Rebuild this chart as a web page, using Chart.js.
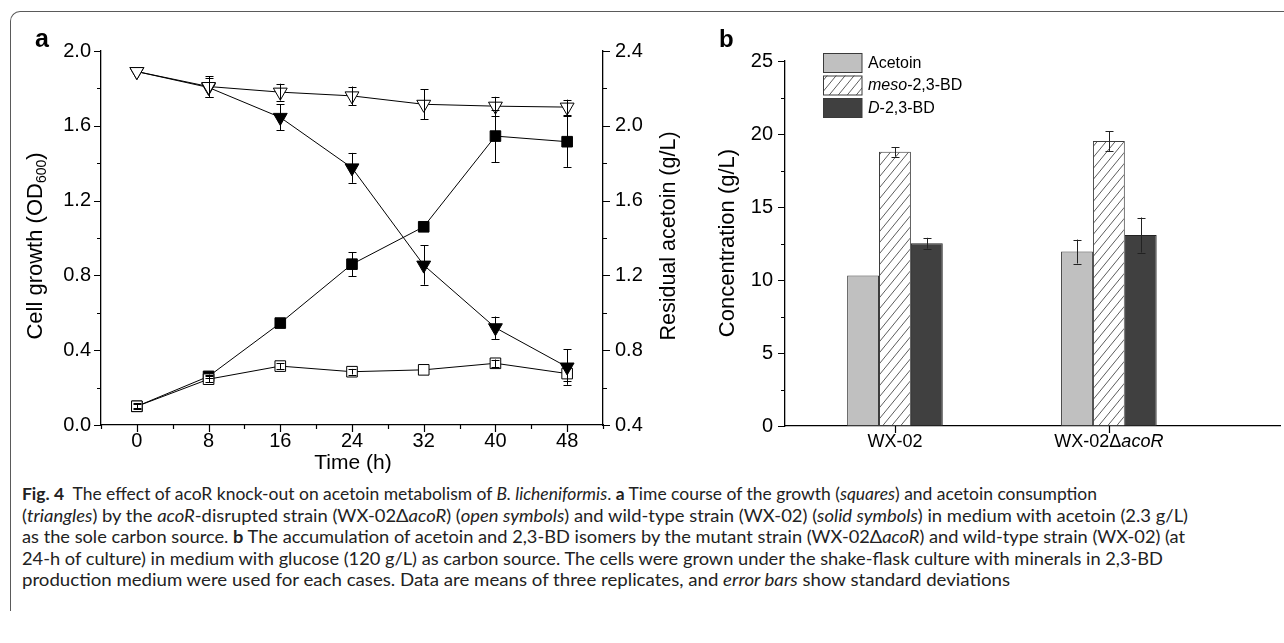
<!DOCTYPE html>
<html><head><meta charset="utf-8">
<script src="https://cdn.jsdelivr.net/npm/chart.js@4"></script>
<style>
html,body{margin:0;padding:0;background:#fff;width:1284px;height:643px;overflow:hidden;position:relative}
#frame{position:absolute;left:10px;top:11px;width:1300px;height:600px;border-left:1.5px solid #5a5a5a;border-top:1.5px solid #5a5a5a;border-top-left-radius:10px;box-sizing:border-box}
#ca{position:absolute;left:0;top:0;width:700px;height:480px}
#cb{position:absolute;left:700px;top:0;width:584px;height:480px}
.cap{position:absolute;left:22px;font-family:Lato,'Open Sans',sans-serif;font-size:17.5px;line-height:21.5px;white-space:nowrap;transform-origin:0 50%;color:#222}
</style></head>
<body>
<div id="frame"></div>
<canvas id="ca" width="700" height="480"></canvas>
<canvas id="cb" width="584" height="480"></canvas>
<div class="cap" style="top:483px"><b>Fig. 4</b>&nbsp; The effect of acoR knock-out on acetoin metabolism of <i>B. licheniformis</i>. <b>a</b> Time course of the growth (<i>squares</i>) and acetoin consumption</div>
<div class="cap" style="top:505px">(<i>triangles</i>) by the <i>acoR</i>-disrupted strain (WX-02Δ<i>acoR</i>) (<i>open symbols</i>) and wild-type strain (WX-02) (<i>solid symbols</i>) in medium with acetoin (2.3 g/L)</div>
<div class="cap" style="top:526px">as the sole carbon source. <b>b</b> The accumulation of acetoin and 2,3-BD isomers by the mutant strain (WX-02Δ<i>acoR</i>) and wild-type strain (WX-02) (at</div>
<div class="cap" style="top:548px">24-h of culture) in medium with glucose (120 g/L) as carbon source. The cells were grown under the shake-flask culture with minerals in 2,3-BD</div>
<div class="cap" style="top:569px">production medium were used for each cases. Data are means of three replicates, and <i>error bars</i> show standard deviations</div>
<script>
// ---------- Panel a data ----------
const timeH = [0, 8, 16, 24, 32, 40, 48];
const growthWT = [0.10, 0.26, 0.545, 0.86, 1.06, 1.545, 1.515];
const growthWTErr = [0.01, 0.01, 0.01, 0.065, 0.02, 0.14, 0.135];
const growthMut = [0.10, 0.245, 0.315, 0.285, 0.295, 0.33, 0.275];
const growthMutErr = [0.015, 0.015, 0.015, 0.015, 0, 0.02, 0.04];
const acetoinWT = [2.29, 2.205, 2.045, 1.775, 1.255, 0.92, 0.71];
const acetoinWTErr = [0, 0.05, 0.07, 0.08, 0.105, 0.06, 0.095];
const acetoinMut = [2.29, 2.21, 2.18, 2.16, 2.115, 2.105, 2.10];
const acetoinMutErr = [0, 0.055, 0.045, 0.05, 0.08, 0.05, 0.04];

// ---------- Panel b data ----------
const strains = ['WX-02', 'WX-02Δ'];
const strainsItalic = ['', 'acoR'];
const strainPos = [1, 2];
const acetoinConc = [10.3, 11.95];
const acetoinConcErr = [0, 0.82];
const mesoBD = [18.78, 19.52];
const mesoBDErr = [0.33, 0.68];
const dBD = [12.52, 13.08];
const dBDErr = [0.37, 1.2];
const seriesItalic = ['', 'meso', 'D'];
const seriesRest = ['Acetoin', '-2,3-BD', '-2,3-BD'];

// caption line right edges (layout)
const capLeft = 22;
const capRight = [1097, 1188, 1185, 1163, 1010];

const FONT = "'Liberation Sans', Arial, sans-serif";

function tickMarks(ctx, scale, side, majorLen, minorLen, allMajor) {
  ctx.save(); ctx.strokeStyle = '#000'; ctx.lineWidth = 1.2;
  ctx.beginPath();
  scale.ticks.forEach(t => {
    const major = allMajor || (t.label !== '' && t.label !== undefined);
    const len = major ? majorLen : minorLen;
    const p = Math.round(scale.getPixelForValue(t.value)) + 0.5;
    if (side === 'bottom') { ctx.moveTo(p, scale.top); ctx.lineTo(p, scale.top + len); }
    else if (side === 'left') { ctx.moveTo(scale.right, p); ctx.lineTo(scale.right - len, p); }
    else { ctx.moveTo(scale.left, p); ctx.lineTo(scale.left + len, p); }
  });
  ctx.stroke(); ctx.restore();
}

function errBars(chart, capHalf, color) {
  const ctx = chart.ctx;
  ctx.save(); ctx.strokeStyle = color; ctx.lineWidth = 1;
  chart.data.datasets.forEach((ds, di) => {
    if (!ds.errorBars) return;
    const meta = chart.getDatasetMeta(di);
    const ys = chart.scales[meta.yAxisID];
    meta.data.forEach((el, i) => {
      const e = ds.errorBars[i]; if (!e) return;
      const v = ds.data[i].y;
      const y1 = ys.getPixelForValue(v + e), y2 = ys.getPixelForValue(v - e);
      const x = Math.round(el.x) + 0.5;
      ctx.beginPath();
      ctx.moveTo(x, y1); ctx.lineTo(x, y2);
      ctx.moveTo(x - capHalf, Math.round(y1) + 0.5); ctx.lineTo(x + capHalf, Math.round(y1) + 0.5);
      ctx.moveTo(x - capHalf, Math.round(y2) + 0.5); ctx.lineTo(x + capHalf, Math.round(y2) + 0.5);
      ctx.stroke();
    });
  });
  ctx.restore();
}

function rotText(ctx, cx, cy, parts) {
  ctx.save();
  ctx.translate(cx, cy); ctx.rotate(-Math.PI / 2);
  ctx.fillStyle = '#000'; ctx.textBaseline = 'middle'; ctx.textAlign = 'left';
  let total = 0;
  parts.forEach(p => { ctx.font = (p.style || '') + ' ' + p.size + 'px ' + FONT; p.w = ctx.measureText(p.t).width; total += p.w; });
  let x = -total / 2;
  parts.forEach(p => { ctx.font = (p.style || '') + ' ' + p.size + 'px ' + FONT; ctx.fillText(p.t, x, p.dy || 0); x += p.w; });
  ctx.restore();
}

const plugA = {
  id: 'plugA',
  afterDatasetsDraw(chart) { errBars(chart, 4, '#000'); },
  afterDraw(chart) {
    const ctx = chart.ctx, s = chart.scales;
    tickMarks(ctx, s.x, 'bottom', 7, 4);
    tickMarks(ctx, s.y, 'left', 7, 4);
    tickMarks(ctx, s.y2, 'right', 7, 4);
    rotText(ctx, 36, 246, [{t: 'Cell growth (OD', size: 22}, {t: '600', size: 14, dy: 6}, {t: ')', size: 22}]);
    rotText(ctx, 669, 236, [{t: 'Residual acetoin (g/L)', size: 21.5}]);
    ctx.save(); ctx.fillStyle = '#000';
    ctx.font = '21px ' + FONT; ctx.textAlign = 'center'; ctx.textBaseline = 'middle';
    ctx.fillText('Time (h)', 353, 463);
    ctx.font = 'bold 25px ' + FONT; ctx.textAlign = 'left'; ctx.textBaseline = 'alphabetic';
    ctx.fillText('a', 35, 47);
    ctx.restore();
  }
};

const tickFont = {family: FONT, size: 20};
const isMult = (v, m) => Math.abs(v / m - Math.round(v / m)) < 1e-6;

new Chart(document.getElementById('ca'), {
  type: 'line',
  data: {datasets: [
    {label: 'Acetoin WX-02ΔacoR', data: timeH.map((t, i) => ({x: t, y: acetoinMut[i]})), yAxisID: 'y2', errorBars: acetoinMutErr,
     pointStyle: 'triangle', pointRotation: 180, pointRadius: 8, pointBackgroundColor: '#fff', pointBorderColor: '#000', pointBorderWidth: 1,
     borderColor: '#000', borderWidth: 1, fill: false, tension: 0},
    {label: 'Acetoin WX-02', data: timeH.map((t, i) => ({x: t, y: acetoinWT[i]})), yAxisID: 'y2', errorBars: acetoinWTErr,
     pointStyle: 'triangle', pointRotation: 180, pointRadius: 8, pointBackgroundColor: '#000', pointBorderColor: '#000', pointBorderWidth: 1,
     borderColor: '#000', borderWidth: 1, fill: false, tension: 0},
    {label: 'Growth WX-02ΔacoR', data: timeH.map((t, i) => ({x: t, y: growthMut[i]})), yAxisID: 'y', errorBars: growthMutErr,
     pointStyle: 'rect', pointRadius: 7.5, pointBackgroundColor: '#fff', pointBorderColor: '#000', pointBorderWidth: 1,
     borderColor: '#000', borderWidth: 1, fill: false, tension: 0},
    {label: 'Growth WX-02', data: timeH.map((t, i) => ({x: t, y: growthWT[i]})), yAxisID: 'y', errorBars: growthWTErr,
     pointStyle: 'rect', pointRadius: 7.5, pointBackgroundColor: '#000', pointBorderColor: '#000', pointBorderWidth: 1,
     borderColor: '#000', borderWidth: 1, fill: false, tension: 0}
  ]},
  options: {
    responsive: false, animation: false, events: [],
    layout: {padding: {top: 51, left: 0, right: 0, bottom: 0}},
    plugins: {legend: {display: false}, tooltip: {enabled: false}},
    scales: {
      x: {type: 'linear', position: 'bottom', min: -4, max: 52,
          grid: {display: false, drawTicks: false}, border: {display: true, color: '#000', width: 1.3},
          ticks: {stepSize: 4, autoSkip: false, maxRotation: 0, padding: 4, font: tickFont, color: '#000',
                  callback: v => (isMult(v, 8) && v >= 0 && v <= 48) ? String(Math.round(v)) : ''},
          afterFit(sc) { sc.height = 55; }},
      y: {type: 'linear', position: 'left', min: 0, max: 2.0,
          grid: {display: false, drawTicks: false}, border: {display: true, color: '#000', width: 1.3},
          ticks: {stepSize: 0.2, autoSkip: false, padding: 10, font: tickFont, color: '#000',
                  callback: v => isMult(v, 0.4) ? v.toFixed(1) : ''},
          afterFit(sc) { sc.width = 101; }},
      y2: {type: 'linear', position: 'right', min: 0.4, max: 2.4,
          grid: {display: false, drawTicks: false}, border: {display: true, color: '#000', width: 1.3},
          ticks: {stepSize: 0.2, autoSkip: false, padding: 12, font: tickFont, color: '#000',
                  callback: v => isMult(v, 0.4) ? v.toFixed(1) : ''},
          afterFit(sc) { sc.width = 97; }}
    }
  },
  plugins: [plugA]
});

function hatch() {
  const w = 9, h = 11;
  const c = document.createElement('canvas'); c.width = w; c.height = h;
  const g = c.getContext('2d');
  g.fillStyle = '#fff'; g.fillRect(0, 0, w, h);
  g.strokeStyle = '#4a4a4a'; g.lineWidth = 0.9;
  g.beginPath();
  [-w, 0, w].forEach(o => { g.moveTo(o - w, 2 * h); g.lineTo(o + 2 * w, -h); });
  g.stroke();
  return g.createPattern(c, 'repeat');
}

const plugB = {
  id: 'plugB',
  afterDatasetsDraw(chart) { errBars(chart, 4, '#222'); },
  afterDraw(chart) {
    const ctx = chart.ctx, s = chart.scales;
    tickMarks(ctx, s.x, 'bottom', 7, 7, true);
    tickMarks(ctx, s.y, 'left', 7, 4);
    rotText(ctx, 28, 243, [{t: 'Concentration (g/L)', size: 22}]);
    ctx.save(); ctx.fillStyle = '#000';
    ctx.font = 'bold 24px ' + FONT; ctx.textAlign = 'left'; ctx.textBaseline = 'alphabetic';
    ctx.fillText('b', 19, 47);
    ctx.textBaseline = 'middle';
    strains.forEach((lab, i) => {
      const cx = s.x.getPixelForValue(strainPos[i]);
      ctx.font = '18px ' + FONT; const w1 = ctx.measureText(lab).width;
      ctx.font = 'italic 18px ' + FONT; const w2 = ctx.measureText(strainsItalic[i]).width;
      const x = cx - (w1 + w2) / 2;
      ctx.font = '18px ' + FONT; ctx.fillText(lab, x, 442);
      ctx.font = 'italic 18px ' + FONT; ctx.fillText(strainsItalic[i], x + w1, 442);
    });
    chart.data.datasets.forEach((ds, i) => {
      const top = 53 + i * 22.5;
      ctx.fillStyle = ds.backgroundColor; ctx.fillRect(123, top, 39, 19.5);
      ctx.strokeStyle = '#3a3a3a'; ctx.lineWidth = 1; ctx.strokeRect(123.5, top + 0.5, 38.5, 19);
      ctx.fillStyle = '#000';
      let x = 168;
      if (seriesItalic[i]) { ctx.font = 'italic 16px ' + FONT; ctx.fillText(seriesItalic[i], x, top + 10.5); x += ctx.measureText(seriesItalic[i]).width; }
      ctx.font = '16px ' + FONT; ctx.fillText(seriesRest[i], x, top + 10.5);
    });
    ctx.restore();
  }
};

const mk = (vals) => strainPos.map((x, i) => ({x, y: vals[i]}));
new Chart(document.getElementById('cb'), {
  type: 'bar',
  data: {datasets: [
    {label: 'Acetoin', data: mk(acetoinConc), errorBars: acetoinConcErr, backgroundColor: '#c0c0c0', borderColor: '#3a3a3a', borderWidth: 1, borderSkipped: false},
    {label: 'meso-2,3-BD', data: mk(mesoBD), errorBars: mesoBDErr, backgroundColor: hatch(), borderColor: '#3a3a3a', borderWidth: 1, borderSkipped: false},
    {label: 'D-2,3-BD', data: mk(dBD), errorBars: dBDErr, backgroundColor: '#404040', borderColor: '#222', borderWidth: 1, borderSkipped: false}
  ]},
  options: {
    responsive: false, animation: false, events: [],
    layout: {padding: {top: 61, left: 0, right: 4, bottom: 0}},
    datasets: {bar: {categoryPercentage: 0.447, barPercentage: 1}},
    plugins: {legend: {display: false}, tooltip: {enabled: false}},
    scales: {
      x: {type: 'linear', position: 'bottom', min: 0.486, max: 2.8, offset: false,
          grid: {display: false, drawTicks: false, offset: false}, border: {display: true, color: '#000', width: 1.3},
          afterBuildTicks(sc) { sc.ticks = strainPos.map(v => ({value: v})); },
          ticks: {callback: () => '', font: tickFont},
          afterFit(sc) { sc.height = 54; }},
      y: {type: 'linear', position: 'left', min: 0, max: 25,
          grid: {display: false, drawTicks: false}, border: {display: true, color: '#000', width: 1.3},
          ticks: {stepSize: 2.5, autoSkip: false, padding: 12, font: tickFont, color: '#000',
                  callback: v => isMult(v, 5) ? String(Math.round(v)) : ''},
          afterFit(sc) { sc.width = 85; }}
    }
  },
  plugins: [plugB]
});

function fitCaption() {
  document.querySelectorAll('.cap').forEach((el, i) => {
    el.style.transform = 'none';
    const w = el.getBoundingClientRect().width;
    el.style.transform = 'scaleX(' + ((capRight[i] - capLeft) / w) + ')';
  });
}
fitCaption();
if (document.fonts && document.fonts.ready) document.fonts.ready.then(fitCaption);
</script>
</body></html>
